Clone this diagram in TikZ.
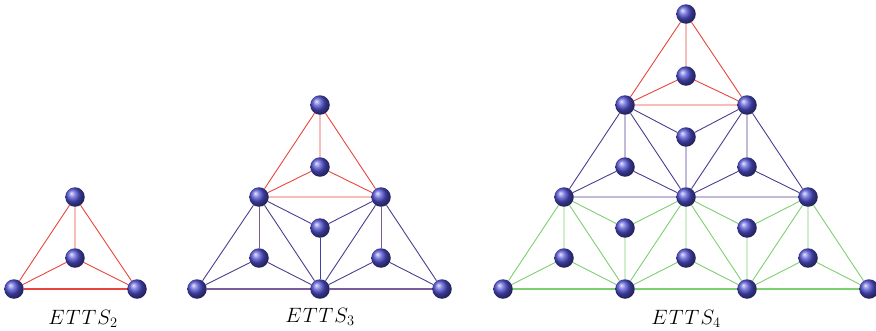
\documentclass[tikz,border=0pt]{standalone}
\usetikzlibrary{backgrounds}
\definecolor{ered}{RGB}{232,70,60}
\definecolor{epur}{RGB}{78,60,145}
\definecolor{emauve}{RGB}{123,92,155}
\definecolor{eblue}{RGB}{59,68,165}
\definecolor{egreen}{RGB}{125,208,112}
\definecolor{eball}{RGB}{80,80,210}
\newcommand{\ettsname}[1]{$E\mkern1mu T\mkern1mu T\mkern1mu S_{#1}$}
\begin{document}
\begin{tikzpicture}[x=1pt,y=-1pt,
  ballnode/.style={circle,minimum size=19.5pt,inner sep=0pt,shading=ball,ball color=eball},
  redge/.style={draw=ered,line width=0.9pt},
  pedge/.style={draw=epur,line width=0.9pt},
  medge/.style={draw=emauve,line width=1.3pt},
  bedge/.style={draw=eblue,line width=0.9pt},
  gedge/.style={draw=egreen,line width=0.9pt},
  gbedge/.style={draw=egreen,line width=1.4pt},
  lbl/.style={font=\huge,anchor=base,inner sep=0pt}]
\useasboundingbox (0,0) rectangle (876,330);
% ETTS2
\node[ballnode] (a1) at (75,197) {};
\node[ballnode] (a2) at (75,258) {};
\node[ballnode] (a3) at (14,289) {};
\node[ballnode] (a4) at (137,289) {};
\begin{scope}[on background layer]
\draw[redge] (a1)--(a3) (a1)--(a4) (a2)--(a1) (a2)--(a3) (a2)--(a4);
\draw[redge,line width=1.3pt] (a3)--(a4);
\end{scope}
\node[lbl] (la) at (83,324) {\ettsname{2}};
% ETTS3
\node[ballnode] (b1) at (320,105) {};
\node[ballnode] (b2) at (320,167) {};
\node[ballnode] (b3) at (259,197) {};
\node[ballnode] (b4) at (381,197) {};
\node[ballnode] (b5) at (320,228) {};
\node[ballnode] (b6) at (259,258) {};
\node[ballnode] (b7) at (381,258) {};
\node[ballnode] (b8) at (197,289) {};
\node[ballnode] (b9) at (320,289) {};
\node[ballnode] (b10) at (442,289) {};
\begin{scope}[on background layer]
\draw[redge] (b1)--(b3) (b1)--(b4) (b3)--(b4) (b2)--(b1) (b2)--(b3) (b2)--(b4);
\draw[pedge] (b3)--(b8) (b3)--(b9) (b6)--(b8) (b6)--(b9)
  (b4)--(b9) (b4)--(b10) (b7)--(b9) (b7)--(b10)
  (b5)--(b3) (b5)--(b4);
\draw[medge] (b8)--(b9) (b9)--(b10);
\draw[medge,line width=1pt] (b6)--(b3) (b7)--(b4);
\draw[bedge] (b5)--(b9);
\end{scope}
\node[lbl] (lb) at (320,322) {\ettsname{3}};
% ETTS4
\node[ballnode] (cT) at (686,14) {};
\node[ballnode] (cCT) at (686,76) {};
\node[ballnode] (cML) at (625,105) {};
\node[ballnode] (cMR) at (747,105) {};
\node[ballnode] (cC1) at (686,137) {};
\node[ballnode] (cL1) at (625,167) {};
\node[ballnode] (cR1) at (747,167) {};
\node[ballnode] (cP) at (564,197) {};
\node[ballnode] (cQ) at (686,197) {};
\node[ballnode] (cR) at (808,197) {};
\node[ballnode] (cG1) at (625,228) {};
\node[ballnode] (cG2) at (747,228) {};
\node[ballnode] (cH1) at (564,258) {};
\node[ballnode] (cH2) at (686,258) {};
\node[ballnode] (cH3) at (808,258) {};
\node[ballnode] (cB1) at (503,289) {};
\node[ballnode] (cB2) at (625,289) {};
\node[ballnode] (cB3) at (747,289) {};
\node[ballnode] (cB4) at (869,289) {};
\begin{scope}[on background layer]
\draw[redge] (cT)--(cML) (cT)--(cMR) (cML)--(cMR) (cCT)--(cT) (cCT)--(cML) (cCT)--(cMR);
\draw[pedge] (cML)--(cP) (cML)--(cQ) (cP)--(cQ) (cL1)--(cML) (cL1)--(cP) (cL1)--(cQ)
  (cMR)--(cQ) (cMR)--(cR) (cQ)--(cR) (cR1)--(cMR) (cR1)--(cQ) (cR1)--(cR)
  (cC1)--(cML) (cC1)--(cMR) (cC1)--(cQ);
\draw[gedge] (cP)--(cB1) (cP)--(cB2) (cH1)--(cP) (cH1)--(cB1) (cH1)--(cB2)
  (cG1)--(cP) (cG1)--(cQ) (cG1)--(cB2)
  (cQ)--(cB2) (cQ)--(cB3) (cH2)--(cQ) (cH2)--(cB2) (cH2)--(cB3)
  (cG2)--(cQ) (cG2)--(cR) (cG2)--(cB3)
  (cR)--(cB3) (cR)--(cB4) (cH3)--(cR) (cH3)--(cB3) (cH3)--(cB4);
\draw[gbedge] (cB1)--(cB2) (cB2)--(cB3) (cB3)--(cB4);
\end{scope}
\node[lbl] (lc) at (686,324) {\ettsname{4}};
\end{tikzpicture}
\end{document}
